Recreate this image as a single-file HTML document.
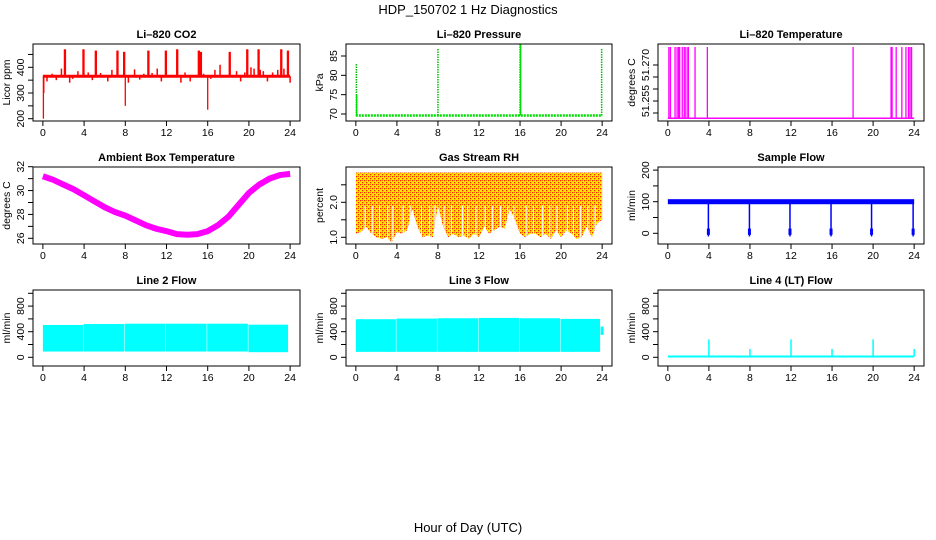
<!DOCTYPE html>
<html><head><meta charset="utf-8"><style>
body{margin:0;background:#fff}
svg{display:block;font-family:"Liberation Sans",Arial,sans-serif}
</style></head><body>
<svg id="c" width="936" height="540" viewBox="0 0 936 540">
<defs>
<pattern id="chk" width="4" height="4" patternUnits="userSpaceOnUse">
<rect width="4" height="4" fill="#ffe800"/><rect width="1.3" height="1.3" fill="#ff2000"/><rect x="2" y="2" width="1.3" height="1.3" fill="#ff2000"/><rect x="2" y="0" width="1" height="1" fill="#ff6000"/>
</pattern>
</defs>
<text x="468" y="14" text-anchor="middle" font-size="13">HDP_150702  1 Hz Diagnostics</text>
<text x="468" y="532" text-anchor="middle" font-size="13">Hour of Day (UTC)</text>
</svg>
<script>
// ---- data ----
const xTicks = [0,4,8,12,16,20,24];
const co2Base = 365;
const co2SpikeHours = [2.1,3.9,5.1,7.2,7.85,10.2,11.9,13.0,15.1,15.3,18.1,19.8,20.9,23.1,23.75];
const co2SpikeVals = [470,470,465,465,460,465,465,470,465,460,460,470,470,470,465];
const co2DipHours = [0.05,8.0,16.0];
const co2DipVals = [200,250,235];
const co2NoiseHours = [0.4,0.9,1.3,1.8,2.6,2.9,3.4,4.4,4.8,5.6,6.3,6.7,7.5,8.3,8.9,9.4,9.8,10.6,11.1,11.5,12.4,13.4,13.8,14.3,14.8,15.6,16.3,16.7,17.2,17.5,18.4,18.8,19.2,19.6,20.2,20.5,21.1,21.4,21.8,22.3,22.8,23.4,24.0];
const co2NoiseVals = [345,375,350,395,340,355,385,380,350,378,345,390,370,340,392,352,375,378,395,345,360,340,380,345,370,375,355,390,410,370,360,385,345,380,400,395,390,385,345,380,390,395,340];
const presBase = 69.6;
const presSpikeHours = [0.05,8.0,16.0,23.95];
const presSpikeVals = [83,87,88,87];
const tempBase = 51.2478;
const tempTop = 51.2775;
const tempSpikeHours = [0.1,0.25,0.7,0.9,1.05,1.15,1.4,1.6,1.75,1.95,2.0,2.65,3.85,18.05,21.75,21.85,22.25,22.8,23.2,23.45,23.6,23.75];
const ambHours = [0,1,2,3,4,5,6,7,8,9,10,11,12,13,14,15,16,17,18,19,20,21,22,23,24];
const ambVals = [31.2,30.9,30.5,30.1,29.6,29.1,28.6,28.2,27.9,27.5,27.1,26.8,26.6,26.35,26.3,26.35,26.6,27.1,27.8,28.8,29.8,30.5,31.0,31.3,31.4];
const rhLowHours = [0,0.5,1,1.5,2,2.5,3,3.5,4,4.5,5,5.5,6,6.5,7,7.5,8,8.5,9,9.5,10,10.5,11,11.5,12,12.5,13,13.5,14,14.5,15,15.5,16,16.5,17,17.5,18,18.5,19,19.5,20,20.5,21,21.5,22,22.5,23,23.5,24];
const rhLowVals = [1.1,1.15,1.3,1.1,1.0,0.95,1.0,0.85,1.15,1.1,1.2,1.8,1.3,1.0,1.05,1.0,1.9,1.3,1.0,1.1,1.0,1.05,0.95,1.1,1.0,1.3,1.1,1.2,1.3,1.25,1.8,1.5,1.1,1.0,1.1,1.1,1.0,1.1,0.95,1.2,1.0,1.2,1.1,0.95,1.0,1.3,1.0,1.4,1.5];
const rhTop = 2.85;
const rhSlitHours = [0.9,1.6,2.3,3.1,3.6,4.6,5.3,6.4,7.2,7.7,8.6,9.3,10.4,10.9,11.7,12.6,13.3,14.1,14.8,15.4,16.6,17.3,18.2,18.9,19.6,20.6,21.2,21.9,22.6,23.3];
const sfBase = 100;
const sfDipHours = [3.95,7.95,11.9,15.9,19.85,23.9];
const l2Lo = [90,90,90,90,90,80];
const l2Hi = [505,520,525,525,525,510];
const l3Lo = [85,85,85,85,85,85];
const l3Hi = [595,605,610,615,610,600];
const segStarts = [0,3.95,7.95,11.95,15.95,19.95];
const segEnds = [3.9,7.9,11.9,15.9,19.9,23.8];
const l4Base = 12;
const l4SpikeHours = [4,8,12,16,20,24];
const l4SpikeVals = [280,130,280,130,280,130];

// ---- helpers ----
const NS='http://www.w3.org/2000/svg';
const svg=document.getElementById('c');
function el(tag,attrs,parent){const e=document.createElementNS(NS,tag);for(const k in attrs)e.setAttribute(k,attrs[k]);(parent||svg).appendChild(e);return e;}

function panel(name,title,ylab,bx,by,ytickVals,ytickLabels,yv1,yp1,yv2,yp2){
  const g=el('g',{});
  
  
  const x0=bx[0],x1=bx[1],y0=by[0],y1=by[1];
  const pad=(x1-x0)*0.04/1.08;
  const xs=v=>x0+pad+(v/24)*(x1-x0-2*pad);
  const ys=v=>yp1+(v-yv1)*(yp2-yp1)/(yv2-yv1);
  const t=el('text',{x:(x0+x1)/2,y:y0-6,'text-anchor':'middle','font-size':11,'font-weight':'bold'},g);
  t.textContent=title;
  
  
  const data=el('g',{},g);
  
  
  const box=el('rect',{x:x0,y:y0,width:x1-x0,height:y1-y0,fill:'none',stroke:'#000','stroke-width':1},g);
  
  
  const xa=el('g',{},g);
  
  
  xTicks.forEach(v=>{
    el('line',{x1:xs(v),x2:xs(v),y1:y1,y2:y1+5,stroke:'#000'},xa);
    const tt=el('text',{x:xs(v),y:y1+15,'text-anchor':'middle','font-size':10.5},xa);tt.textContent=v;
  });
  const ya=el('g',{},g);
  
  
  ytickVals.forEach((v,i)=>{
    el('line',{x1:x0-5,x2:x0,y1:ys(v),y2:ys(v),stroke:'#000'},ya);
    if(ytickLabels[i]!==''){const tt=el('text',{x:0,y:0,'text-anchor':'middle','font-size':10.5,transform:`translate(${x0-9},${ys(v)}) rotate(-90)`},ya);tt.textContent=ytickLabels[i];}
  });
  const yl=el('text',{x:0,y:0,'text-anchor':'middle','font-size':10.5,transform:`translate(${x0-23},${(y0+y1)/2}) rotate(-90)`},g);
  yl.textContent=ylab;
  
  
  return {g:data,xs,ys,x0,x1,y0,y1};
}
function vline(p,h,a,b,color,w){return el('line',{x1:p.xs(h),x2:p.xs(h),y1:p.ys(a),y2:p.ys(b),stroke:color,'stroke-width':w||1},p.g);}

const C1=[33,300],C2=[346,612],C3=[658,924];
const R1=[44,121],R2=[167,244],R3=[290,366];

// CO2
let p=panel('co2','Li\u2013820 CO2','Licor ppm',C1,R1,[200,250,300,350,400,450],['200','','300','','400',''],400,67.3,200,118.7);
let h=el('line',{x1:p.xs(0),x2:p.xs(24),y1:p.ys(co2Base),y2:p.ys(co2Base),stroke:'#f00','stroke-width':3},p.g);

co2NoiseHours.forEach((hh,i)=>vline(p,hh,co2Base,co2NoiseVals[i],'#f00',1.5));
co2SpikeHours.forEach((hh,i)=>{vline(p,hh,co2Base,co2SpikeVals[i],'#f00',1.5);vline(p,hh+0.08,co2Base,co2SpikeVals[i],'#f00',1.5);});
co2DipHours.forEach((hh,i)=>vline(p,hh,co2Base,co2DipVals[i],'#f00',1.3));
vline(p,0.08,co2Base,300,'#f00',1.5);

// Pressure
p=panel('pressure','Li\u2013820 Pressure','kPa',C2,R1,[70,75,80,85],['70','75','80','85'],70,114,85,56);
h=el('line',{x1:p.xs(0),x2:p.xs(24),y1:p.ys(presBase),y2:p.ys(presBase),stroke:'#00e000','stroke-width':2.5,'stroke-dasharray':'2 1'},p.g);

presSpikeHours.forEach((hh,i)=>{vline(p,hh,presBase,presSpikeVals[i],'#00c000',1.5).setAttribute('stroke-dasharray','1.5 1');});
vline(p,0.08,presBase,75,'#00e000',1.5);
vline(p,16.05,presBase,88,'#00e000',1.5);

// Li-820 Temperature
p=panel('li820-temp','Li\u2013820 Temperature','degrees C',C3,R1,[51.25,51.255,51.26,51.265,51.27],['','51.255','','','51.270'],51.255,101,51.27,65);
h=el('line',{x1:p.xs(0),x2:p.xs(24),y1:p.ys(tempBase),y2:p.ys(tempBase),stroke:'#f0f','stroke-width':1.5},p.g);

tempSpikeHours.forEach(hh=>{vline(p,hh,tempBase,tempTop,'#f0f',1.3);});

// Ambient Box Temperature
p=panel('ambient-temp','Ambient Box Temperature','degrees C',C1,R2,[26,27,28,29,30,31,32],['26','','28','','30','','32'],32,166.7,26,238.3);
const pts=ambHours.map((hh,i)=>p.xs(hh)+','+p.ys(ambVals[i])).join(' ');
h=el('polyline',{points:pts,fill:'none',stroke:'#f0f','stroke-width':6,'stroke-linejoin':'round'},p.g);


// Gas Stream RH
p=panel('gas-rh','Gas Stream RH','percent',C2,R2,[1.0,1.5,2.0,2.5],['1.0','','2.0',''],1.0,237.3,2.0,202.3);
let d='M'+p.xs(0)+','+p.ys(rhTop);
d+=' L'+p.xs(24)+','+p.ys(rhTop);
for(let i=rhLowHours.length-1;i>=0;i--){d+=' L'+p.xs(rhLowHours[i])+','+p.ys(rhLowVals[i]);}
d+=' Z';
h=el('path',{d:d,fill:'url(#chk)'},p.g);

rhSlitHours.forEach(hh=>vline(p,hh,0.8,1.9,'#fff',1));

// Sample Flow
p=panel('sample-flow','Sample Flow','ml/min',C3,R2,[0,50,100,150,200],['0','','100','','200'],0,233.3,100,201.7);
h=el('rect',{x:p.xs(0),y:p.ys(sfBase+8),width:p.xs(24)-p.xs(0),height:p.ys(sfBase-8)-p.ys(sfBase+8),fill:'#00f'},p.g);

sfDipHours.forEach(hh=>{vline(p,hh,sfBase,-10,'#00f',1.5);vline(p,hh,15,-5,'#00f',3);});

// Line 2 flow
function band(p,lo,hi,nm){
  segStarts.forEach((s,i)=>{
    const r=el('rect',{x:p.xs(s),y:p.ys(hi[i]),width:p.xs(segEnds[i])-p.xs(s),height:p.ys(lo[i])-p.ys(hi[i]),fill:'#0ff'},p.g);
    
    
  });
}
const yt=[0,200,400,600,800,1000],yl=['0','','400','','800',''];
p=panel('line2-flow','Line 2 Flow','ml/min',C1,R3,yt,yl,0,357.3,400,331.7);
band(p,l2Lo,l2Hi,'line2-flow');
p=panel('line3-flow','Line 3 Flow','ml/min',C2,R3,yt,yl,0,357.3,400,331.7);
band(p,l3Lo,l3Hi,'line3-flow');
vline(p,24,350,480,'#0ff',3);
p=panel('line4-flow','Line 4 (LT) Flow','ml/min',C3,R3,yt,yl,0,357.3,400,331.7);
h=el('line',{x1:p.xs(0),x2:p.xs(24),y1:p.ys(l4Base),y2:p.ys(l4Base),stroke:'#0ff','stroke-width':2},p.g);

l4SpikeHours.forEach((hh,i)=>vline(p,hh,l4Base,l4SpikeVals[i],'#0ff',1.5));
</script>
</body></html>
